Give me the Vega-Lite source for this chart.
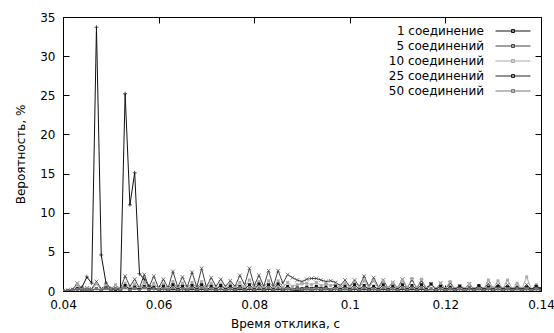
{
  "$schema": "https://vega.github.io/schema/vega-lite/v6.json",
  "width": 478,
  "height": 274,
  "autosize": {"type": "none"},
  "padding": {"left": 63, "top": 17, "right": 13, "bottom": 42},
  "background": "white",
  "config": {
    "font": "DejaVu Sans",
    "view": {"stroke": "black", "strokeWidth": 1},
    "axis": {
      "grid": false,
      "domain": false,
      "labelFlush": false,
      "labelOverlap": false,
      "tickColor": "black",
      "tickSize": -6,
      "labelColor": "black",
      "labelFontSize": 12,
      "titleFontSize": 12,
      "titleFontWeight": "normal",
      "titleColor": "black",
      "labelFont": "DejaVu Sans",
      "titleFont": "DejaVu Sans"
    }
  },
  "data": {
    "values": [
      {"t": 0.040, "s1": 0, "s5": 0, "s10": 0, "s25": 0, "s50": 0},
      {"t": 0.041, "s1": 0, "s5": 0.1, "s10": 0.1, "s25": 0, "s50": 0},
      {"t": 0.042, "s1": 0.1, "s5": 0.2, "s10": 0.1, "s25": 0.1, "s50": 0.1},
      {"t": 0.043, "s1": 0.3, "s5": 1.0, "s10": 0.8, "s25": 0.3, "s50": 0.2},
      {"t": 0.044, "s1": 0.5, "s5": 0.2, "s10": 0.2, "s25": 0.1, "s50": 0.1},
      {"t": 0.045, "s1": 1.8, "s5": 0.4, "s10": 0.3, "s25": 0.2, "s50": 0.2},
      {"t": 0.046, "s1": 1.0, "s5": 0.3, "s10": 0.2, "s25": 0.1, "s50": 0.1},
      {"t": 0.047, "s1": 33.7, "s5": 1.2, "s10": 0.9, "s25": 0.3, "s50": 0.3},
      {"t": 0.048, "s1": 4.6, "s5": 0.3, "s10": 0.2, "s25": 0.1, "s50": 0.1},
      {"t": 0.049, "s1": 1.0, "s5": 0.6, "s10": 0.7, "s25": 0.4, "s50": 0.3},
      {"t": 0.050, "s1": 0.3, "s5": 0.3, "s10": 0.2, "s25": 0.1, "s50": 0.1},
      {"t": 0.051, "s1": 0.2, "s5": 0.4, "s10": 0.8, "s25": 0.2, "s50": 0.3},
      {"t": 0.052, "s1": 0.2, "s5": 0.3, "s10": 0.2, "s25": 0.1, "s50": 0.1},
      {"t": 0.053, "s1": 25.2, "s5": 1.9, "s10": 1.0, "s25": 0.7, "s50": 0.4},
      {"t": 0.054, "s1": 11.0, "s5": 0.6, "s10": 0.3, "s25": 0.2, "s50": 0.1},
      {"t": 0.055, "s1": 15.1, "s5": 1.5, "s10": 0.9, "s25": 0.5, "s50": 0.3},
      {"t": 0.056, "s1": 2.2, "s5": 0.4, "s10": 0.3, "s25": 0.2, "s50": 0.1},
      {"t": 0.057, "s1": 1.5, "s5": 2.1, "s10": 1.1, "s25": 0.6, "s50": 0.4},
      {"t": 0.058, "s1": 0.6, "s5": 0.5, "s10": 0.3, "s25": 0.2, "s50": 0.1},
      {"t": 0.059, "s1": 0.3, "s5": 1.9, "s10": 1.0, "s25": 0.5, "s50": 0.3},
      {"t": 0.060, "s1": 0.1, "s5": 0.4, "s10": 0.3, "s25": 0.1, "s50": 0.1},
      {"t": 0.061, "s1": 0.2, "s5": 1.5, "s10": 0.9, "s25": 0.6, "s50": 0.3},
      {"t": 0.062, "s1": 0.1, "s5": 0.4, "s10": 0.3, "s25": 0.1, "s50": 0.1},
      {"t": 0.063, "s1": 0.2, "s5": 2.5, "s10": 1.2, "s25": 0.8, "s50": 0.4},
      {"t": 0.064, "s1": 0.1, "s5": 0.5, "s10": 0.3, "s25": 0.2, "s50": 0.1},
      {"t": 0.065, "s1": 0.2, "s5": 1.8, "s10": 1.0, "s25": 0.6, "s50": 0.3},
      {"t": 0.066, "s1": 0.1, "s5": 0.5, "s10": 0.3, "s25": 0.1, "s50": 0.1},
      {"t": 0.067, "s1": 0.2, "s5": 2.4, "s10": 1.1, "s25": 0.7, "s50": 0.4},
      {"t": 0.068, "s1": 0.1, "s5": 0.5, "s10": 0.3, "s25": 0.2, "s50": 0.1},
      {"t": 0.069, "s1": 0.2, "s5": 2.9, "s10": 1.2, "s25": 0.8, "s50": 0.4},
      {"t": 0.070, "s1": 0.1, "s5": 0.5, "s10": 0.3, "s25": 0.1, "s50": 0.1},
      {"t": 0.071, "s1": 0.2, "s5": 1.7, "s10": 1.0, "s25": 0.6, "s50": 0.3},
      {"t": 0.072, "s1": 0.1, "s5": 0.6, "s10": 0.3, "s25": 0.2, "s50": 0.1},
      {"t": 0.073, "s1": 0.2, "s5": 1.5, "s10": 0.9, "s25": 0.7, "s50": 0.3},
      {"t": 0.074, "s1": 0.1, "s5": 0.6, "s10": 0.3, "s25": 0.2, "s50": 0.1},
      {"t": 0.075, "s1": 0.2, "s5": 1.3, "s10": 0.9, "s25": 0.6, "s50": 0.3},
      {"t": 0.076, "s1": 0.1, "s5": 0.6, "s10": 0.4, "s25": 0.2, "s50": 0.1},
      {"t": 0.077, "s1": 0.2, "s5": 2.0, "s10": 1.1, "s25": 0.6, "s50": 0.4},
      {"t": 0.078, "s1": 0.1, "s5": 0.8, "s10": 0.4, "s25": 0.2, "s50": 0.1},
      {"t": 0.079, "s1": 0.2, "s5": 2.9, "s10": 1.4, "s25": 0.8, "s50": 0.4},
      {"t": 0.080, "s1": 0.1, "s5": 0.7, "s10": 0.4, "s25": 0.2, "s50": 0.1},
      {"t": 0.081, "s1": 0.2, "s5": 2.0, "s10": 1.2, "s25": 0.9, "s50": 0.4},
      {"t": 0.082, "s1": 0.1, "s5": 0.6, "s10": 0.4, "s25": 0.2, "s50": 0.1},
      {"t": 0.083, "s1": 0.2, "s5": 2.6, "s10": 1.3, "s25": 0.8, "s50": 0.4},
      {"t": 0.084, "s1": 0.1, "s5": 0.6, "s10": 0.4, "s25": 0.2, "s50": 0.1},
      {"t": 0.085, "s1": 0.2, "s5": 2.6, "s10": 1.3, "s25": 0.9, "s50": 0.4},
      {"t": 0.086, "s1": 0.1, "s5": 1.0, "s10": 0.5, "s25": 0.2, "s50": 0.2},
      {"t": 0.087, "s1": 0.2, "s5": 2.1, "s10": 1.1, "s25": 0.6, "s50": 0.3},
      {"t": 0.088, "s1": 0.1, "s5": 1.7, "s10": 0.6, "s25": 0.2, "s50": 0.2},
      {"t": 0.089, "s1": 0.1, "s5": 1.4, "s10": 0.8, "s25": 0.4, "s50": 0.3},
      {"t": 0.090, "s1": 0.1, "s5": 1.2, "s10": 0.9, "s25": 0.3, "s50": 0.2},
      {"t": 0.091, "s1": 0.2, "s5": 1.5, "s10": 1.0, "s25": 0.5, "s50": 0.3},
      {"t": 0.092, "s1": 0.1, "s5": 1.6, "s10": 0.8, "s25": 0.3, "s50": 0.2},
      {"t": 0.093, "s1": 0.2, "s5": 1.6, "s10": 1.1, "s25": 0.6, "s50": 0.3},
      {"t": 0.094, "s1": 0.1, "s5": 1.4, "s10": 0.7, "s25": 0.3, "s50": 0.2},
      {"t": 0.095, "s1": 0.2, "s5": 1.2, "s10": 0.9, "s25": 0.5, "s50": 0.3},
      {"t": 0.096, "s1": 0.1, "s5": 1.3, "s10": 0.7, "s25": 0.2, "s50": 0.2},
      {"t": 0.097, "s1": 0.2, "s5": 1.1, "s10": 0.8, "s25": 0.6, "s50": 0.3},
      {"t": 0.098, "s1": 0.1, "s5": 0.7, "s10": 0.5, "s25": 0.2, "s50": 0.1},
      {"t": 0.099, "s1": 0.2, "s5": 1.4, "s10": 1.0, "s25": 0.6, "s50": 0.3},
      {"t": 0.100, "s1": 0.1, "s5": 0.6, "s10": 0.5, "s25": 0.2, "s50": 0.1},
      {"t": 0.101, "s1": 0.2, "s5": 1.4, "s10": 1.1, "s25": 0.8, "s50": 0.4},
      {"t": 0.102, "s1": 0.1, "s5": 0.6, "s10": 0.5, "s25": 0.2, "s50": 0.1},
      {"t": 0.103, "s1": 0.2, "s5": 1.9, "s10": 1.3, "s25": 0.7, "s50": 0.4},
      {"t": 0.104, "s1": 0.1, "s5": 0.6, "s10": 0.5, "s25": 0.2, "s50": 0.1},
      {"t": 0.105, "s1": 0.2, "s5": 1.7, "s10": 1.3, "s25": 0.6, "s50": 0.3},
      {"t": 0.106, "s1": 0.1, "s5": 0.5, "s10": 0.4, "s25": 0.2, "s50": 0.1},
      {"t": 0.107, "s1": 0.2, "s5": 1.4, "s10": 1.2, "s25": 0.8, "s50": 0.4},
      {"t": 0.108, "s1": 0.1, "s5": 0.4, "s10": 0.4, "s25": 0.2, "s50": 0.1},
      {"t": 0.109, "s1": 0.2, "s5": 1.1, "s10": 1.0, "s25": 0.6, "s50": 0.3},
      {"t": 0.110, "s1": 0.1, "s5": 0.4, "s10": 0.4, "s25": 0.2, "s50": 0.1},
      {"t": 0.111, "s1": 0.2, "s5": 1.5, "s10": 1.3, "s25": 0.8, "s50": 0.4},
      {"t": 0.112, "s1": 0.1, "s5": 0.4, "s10": 0.4, "s25": 0.2, "s50": 0.1},
      {"t": 0.113, "s1": 0.2, "s5": 1.4, "s10": 1.6, "s25": 0.7, "s50": 0.4},
      {"t": 0.114, "s1": 0.1, "s5": 0.4, "s10": 0.4, "s25": 0.2, "s50": 0.1},
      {"t": 0.115, "s1": 0.2, "s5": 1.3, "s10": 1.5, "s25": 0.8, "s50": 0.4},
      {"t": 0.116, "s1": 0.1, "s5": 0.4, "s10": 0.3, "s25": 0.2, "s50": 0.1},
      {"t": 0.117, "s1": 0.2, "s5": 0.9, "s10": 0.8, "s25": 0.9, "s50": 0.3},
      {"t": 0.118, "s1": 0.1, "s5": 0.3, "s10": 0.3, "s25": 0.2, "s50": 0.1},
      {"t": 0.119, "s1": 0.2, "s5": 1.0, "s10": 1.0, "s25": 0.6, "s50": 0.3},
      {"t": 0.120, "s1": 0.1, "s5": 0.3, "s10": 0.3, "s25": 0.2, "s50": 0.1},
      {"t": 0.121, "s1": 0.2, "s5": 1.0, "s10": 1.2, "s25": 0.5, "s50": 0.3},
      {"t": 0.122, "s1": 0.1, "s5": 0.3, "s10": 0.3, "s25": 0.2, "s50": 0.1},
      {"t": 0.123, "s1": 0.2, "s5": 0.6, "s10": 0.7, "s25": 0.6, "s50": 0.3},
      {"t": 0.124, "s1": 0.1, "s5": 0.3, "s10": 0.3, "s25": 0.2, "s50": 0.1},
      {"t": 0.125, "s1": 0.2, "s5": 0.9, "s10": 0.9, "s25": 0.4, "s50": 0.3},
      {"t": 0.126, "s1": 0.1, "s5": 0.2, "s10": 0.3, "s25": 0.2, "s50": 0.1},
      {"t": 0.127, "s1": 0.2, "s5": 0.5, "s10": 0.6, "s25": 0.7, "s50": 0.3},
      {"t": 0.128, "s1": 0.1, "s5": 0.3, "s10": 0.3, "s25": 0.2, "s50": 0.1},
      {"t": 0.129, "s1": 0.2, "s5": 0.9, "s10": 1.4, "s25": 0.5, "s50": 0.3},
      {"t": 0.130, "s1": 0.1, "s5": 0.3, "s10": 0.4, "s25": 0.2, "s50": 0.1},
      {"t": 0.131, "s1": 0.2, "s5": 0.8, "s10": 1.3, "s25": 0.6, "s50": 0.3},
      {"t": 0.132, "s1": 0.1, "s5": 0.3, "s10": 0.3, "s25": 0.2, "s50": 0.1},
      {"t": 0.133, "s1": 0.2, "s5": 0.8, "s10": 1.4, "s25": 0.5, "s50": 0.3},
      {"t": 0.134, "s1": 0.1, "s5": 0.2, "s10": 0.3, "s25": 0.2, "s50": 0.1},
      {"t": 0.135, "s1": 0.2, "s5": 0.6, "s10": 1.0, "s25": 0.4, "s50": 0.3},
      {"t": 0.136, "s1": 0.1, "s5": 0.2, "s10": 0.3, "s25": 0.2, "s50": 0.1},
      {"t": 0.137, "s1": 0.2, "s5": 0.8, "s10": 1.8, "s25": 0.5, "s50": 0.3},
      {"t": 0.138, "s1": 0.1, "s5": 0.2, "s10": 0.2, "s25": 0.2, "s50": 0.1},
      {"t": 0.139, "s1": 0.2, "s5": 0.5, "s10": 0.8, "s25": 0.6, "s50": 0.3},
      {"t": 0.140, "s1": 0.1, "s5": 0.2, "s10": 0.2, "s25": 0.3, "s50": 0.1}
    ]
  },
  "layer": [
    {
      "transform": [{"fold": ["s1", "s5", "s10", "s25", "s50"], "as": ["series", "value"]}],
      "mark": {"type": "line", "strokeWidth": 1, "clip": true},
      "encoding": {
        "x": {"field": "t", "type": "quantitative", "scale": {"domain": [0.04, 0.14], "nice": false, "zero": false},
          "axis": {"orient": "bottom", "values": [0.04, 0.06, 0.08, 0.1, 0.12, 0.14], "format": ".2~f", "labelPadding": 14, "title": "Время отклика, с", "titlePadding": 8, "titleX": 222}},
        "y": {"field": "value", "type": "quantitative", "scale": {"domain": [0, 35], "nice": false},
          "axis": {"orient": "left", "values": [0, 5, 10, 15, 20, 25, 30, 35], "labelPadding": 14, "title": "Вероятность, %", "titlePadding": 12}},
        "color": {"field": "series", "type": "nominal",
          "scale": {"domain": ["s1", "s5", "s10", "s25", "s50"], "range": ["#111111", "#444444", "#aaaaaa", "#222222", "#777777"]},
          "legend": {
            "orient": "top-right", "offset": 8, "title": null,
            "labelExpr": "{'s1': '1 соединение', 's5': '5 соединений', 's10': '10 соединений', 's25': '25 соединений', 's50': '50 соединений'}[datum.label]",
            "labelAlign": "right", "labelOffset": -35, "labelFontSize": 12, "labelColor": "black", "labelFont": "DejaVu Sans",
            "symbolType": "M-3.5,0H3.5M-0.3,-0.3H0.3V0.3H-0.3Z", "symbolSize": 100, "symbolStrokeWidth": 1, "symbolFillColor": "transparent", "rowPadding": 3, "padding": 0
          }}
      }
    },
    {
      "mark": {"type": "point", "shape": "M-1,0H1M0,-1V1", "size": 16, "stroke": "#111111", "strokeWidth": 1, "clip": true},
      "encoding": {"x": {"field": "t", "type": "quantitative", "axis": null}, "y": {"field": "s1", "type": "quantitative", "axis": null}}
    },
    {
      "mark": {"type": "point", "shape": "M-1,-1L1,1M-1,1L1,-1", "size": 14, "stroke": "#444444", "strokeWidth": 1, "clip": true},
      "encoding": {"x": {"field": "t", "type": "quantitative", "axis": null}, "y": {"field": "s5", "type": "quantitative", "axis": null}}
    },
    {
      "mark": {"type": "point", "shape": "square", "filled": true, "size": 9, "color": "#aaaaaa", "opacity": 1, "clip": true},
      "encoding": {"x": {"field": "t", "type": "quantitative", "axis": null}, "y": {"field": "s10", "type": "quantitative", "axis": null}}
    },
    {
      "mark": {"type": "point", "shape": "square", "filled": true, "size": 9, "color": "#111111", "opacity": 1, "clip": true},
      "encoding": {"x": {"field": "t", "type": "quantitative", "axis": null}, "y": {"field": "s25", "type": "quantitative", "axis": null}}
    },
    {
      "mark": {"type": "point", "shape": "square", "filled": true, "size": 9, "color": "#777777", "opacity": 1, "clip": true},
      "encoding": {"x": {"field": "t", "type": "quantitative", "axis": null}, "y": {"field": "s50", "type": "quantitative", "axis": null}}
    },
    {
      "mark": {"type": "point", "opacity": 0},
      "encoding": {
        "x": {"field": "t", "type": "quantitative", "axis": {"orient": "top", "values": [0.04, 0.06, 0.08, 0.1, 0.12, 0.14], "labels": false, "title": null}},
        "y": {"field": "s1", "type": "quantitative", "axis": {"orient": "right", "values": [0, 5, 10, 15, 20, 25, 30, 35], "labels": false, "title": null}}
      }
    }
  ],
  "resolve": {"axis": {"x": "independent", "y": "independent"}}
}
